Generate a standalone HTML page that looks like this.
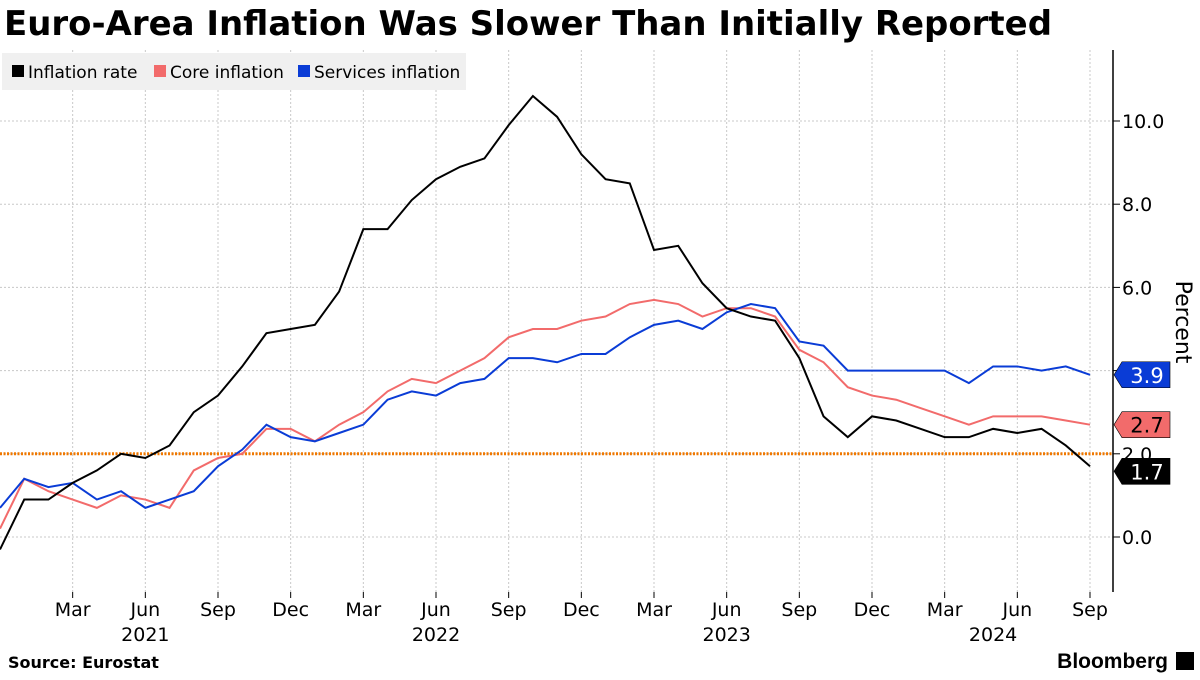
<!DOCTYPE html>
<html><head><meta charset="utf-8"><style>
body{margin:0;background:#fff;width:1200px;height:675px;overflow:hidden;font-family:"Liberation Sans","DejaVu Sans",sans-serif}
svg text{font-family:"DejaVu Sans","Liberation Sans",sans-serif}
</style></head><body>
<svg id="c" width="1200" height="675">
<text x="4" y="35" font-size="34" font-weight="bold" fill="#000" textLength="1048" lengthAdjust="spacingAndGlyphs" style="font-family:'DejaVu Sans',sans-serif">Euro-Area Inflation Was Slower Than Initially Reported</text>
<g id="grid"></g>
<g id="series"></g>
<g id="axis"></g>
<text x="8" y="668" font-size="16" font-weight="bold">Source: Eurostat</text>
<text x="1168" y="668" font-size="21" font-weight="bold" text-anchor="end" style="font-family:'Liberation Sans',sans-serif">Bloomberg</text>
<rect x="1176" y="652" width="18" height="18" fill="#000"/>
</svg>
<script>
const months=["Mar","Jun","Sep","Dec","Mar","Jun","Sep","Dec","Mar","Jun","Sep","Dec","Mar","Jun","Sep"];
const years=["2021","2022","2023","2024"];
const yTicks=[0,2,4,6,8,10];
const headline=[-0.3,0.9,0.9,1.3,1.6,2.0,1.9,2.2,3.0,3.4,4.1,4.9,5.0,5.1,5.9,7.4,7.4,8.1,8.6,8.9,9.1,9.9,10.6,10.1,9.2,8.6,8.5,6.9,7.0,6.1,5.5,5.3,5.2,4.3,2.9,2.4,2.9,2.8,2.6,2.4,2.4,2.6,2.5,2.6,2.2,1.7];
const core=[0.2,1.4,1.1,0.9,0.7,1.0,0.9,0.7,1.6,1.9,2.0,2.6,2.6,2.3,2.7,3.0,3.5,3.8,3.7,4.0,4.3,4.8,5.0,5.0,5.2,5.3,5.6,5.7,5.6,5.3,5.5,5.5,5.3,4.5,4.2,3.6,3.4,3.3,3.1,2.9,2.7,2.9,2.9,2.9,2.8,2.7];
const services=[0.7,1.4,1.2,1.3,0.9,1.1,0.7,0.9,1.1,1.7,2.1,2.7,2.4,2.3,2.5,2.7,3.3,3.5,3.4,3.7,3.8,4.3,4.3,4.2,4.4,4.4,4.8,5.1,5.2,5.0,5.4,5.6,5.5,4.7,4.6,4.0,4.0,4.0,4.0,4.0,3.7,4.1,4.1,4.0,4.1,3.9];
const NS="http://www.w3.org/2000/svg";
const xs=i=>i*1090/45;
const ys=v=>537-v*41.6;
function mk(tag,attrs,parent,txt){const e=document.createElementNS(NS,tag);for(const k in attrs)e.setAttribute(k,attrs[k]);if(txt!==undefined)e.textContent=txt;document.getElementById(parent).appendChild(e);return e;}
yTicks.forEach(v=>{
 const l=mk('line',{x1:0,x2:1113,y1:ys(v),y2:ys(v),stroke:'#c8c8c8','stroke-dasharray':'2,2','stroke-width':1},'grid');
 
 
 const t=mk('line',{x1:1113,x2:1120,y1:ys(v),y2:ys(v),stroke:'#000'},'axis');
 
 
 const tx=mk('text',{x:1122,y:ys(v)+7,'font-size':19},'axis',v.toFixed(1));
 
 
});
months.forEach((m,k)=>{
 const x=xs(3+3*k);
 const l=mk('line',{x1:x,x2:x,y1:50,y2:592,stroke:'#c8c8c8','stroke-dasharray':'2,2'},'grid');
 
 
 const t=mk('line',{x1:x,x2:x,y1:592,y2:598,stroke:'#000'},'axis');
 
 
 const tx=mk('text',{x:x,y:616,'font-size':19,'text-anchor':'middle'},'axis',m);
 
 
});
years.forEach((y,k)=>{
 const x=k<3?xs(6+12*k):xs(41);
 const tx=mk('text',{x:x,y:641,'font-size':19,'text-anchor':'middle'},'axis',y);
 
 
});
const ax=mk('line',{x1:1113,x2:1113,y1:50,y2:592,stroke:'#000','stroke-width':1.5},'axis');


const yt=mk('text',{x:1176,y:322,'font-size':22,'text-anchor':'middle',transform:'rotate(90 1176 322)'},'axis','Percent');


const ref=mk('line',{x1:0,x2:1113,y1:ys(2),y2:ys(2),stroke:'#f07800','stroke-width':3,'stroke-dasharray':'2,1.5'},'series');


[[core,'#f26b6b','core-inflation-line'],[services,'#0a3cd6','services-inflation-line'],[headline,'#000','inflation-rate-line']].forEach(([d,c,n])=>{
 const p=mk('polyline',{points:d.map((v,i)=>xs(i)+','+ys(v)).join(' '),fill:'none',stroke:c,'stroke-width':2},'series');
 
 
});
[[services,'#0a3cd6','#fff','services-last-value-tag'],[core,'#f26b6b','#000','core-last-value-tag'],[headline,'#000','#fff','headline-last-value-tag']].forEach(([d,c,tc,n])=>{
 const v=d[d.length-1];let y=ys(v);
 if(n==='headline-last-value-tag')y+=5;
 const g=mk('g',{},'axis');
 
 
 const poly=document.createElementNS(NS,'polygon');
 poly.setAttribute('points',`1114,${y} 1122,${y-13} 1170,${y-13} 1170,${y+13} 1122,${y+13}`);
 poly.setAttribute('fill',c);poly.setAttribute('stroke','#000');poly.setAttribute('stroke-width','0.6');
 g.appendChild(poly);
 const t=document.createElementNS(NS,'text');
 t.setAttribute('x',1147);t.setAttribute('y',y+8);t.setAttribute('font-size',21);t.setAttribute('text-anchor','middle');t.setAttribute('fill',tc);
 t.textContent=v.toFixed(1);g.appendChild(t);
});
const lg=mk('g',{},'axis');


mk('rect',{x:2,y:53,width:464,height:37,fill:'#f0f0f0'},'axis');
[['Inflation rate','#000',10],['Core inflation','#f26b6b',152],['Services inflation','#0a3cd6',296]].forEach(([l,c,x])=>{
 const s=mk('rect',{x:x+2,y:65,width:12,height:12,fill:c},'axis');
 
 
 const t=mk('text',{x:x+18,y:78,'font-size':17},'axis',l);
 
 
});
</script>
</body></html>
